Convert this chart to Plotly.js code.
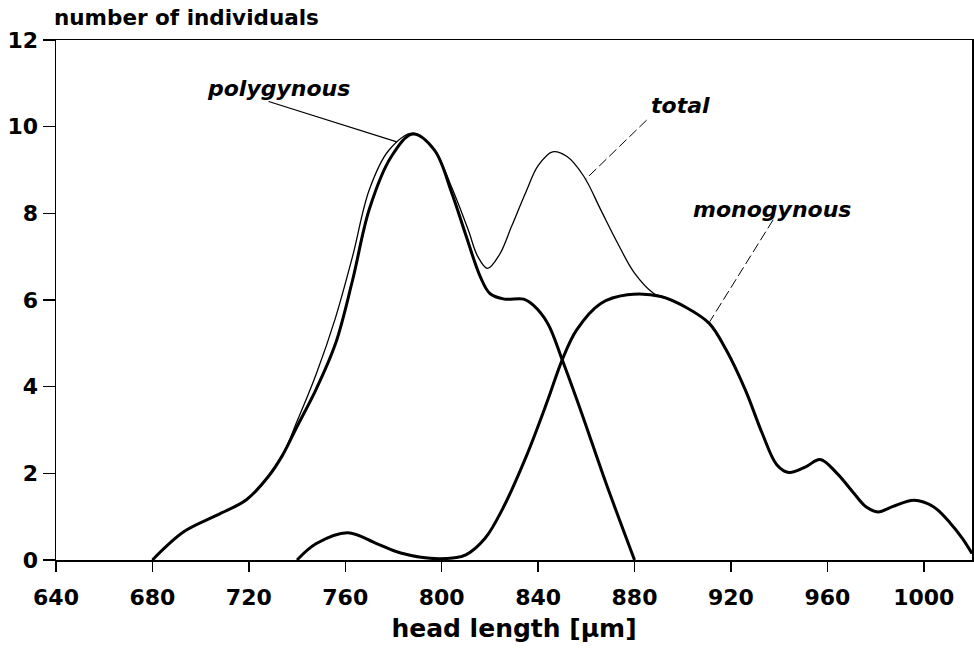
<!DOCTYPE html>
<html>
<head>
<meta charset="utf-8">
<script src="https://cdn.plot.ly/plotly-3.0.1.min.js"></script>
<style>html,body{margin:0;padding:0;background:#fff;}#chart{width:974px;height:653px;}</style>
</head>
<body>
<div id="chart"></div>
<script>
// head length [µm] vs number of individuals
const polyX = [680, 693, 707, 719, 728, 734, 740, 748, 756, 763, 770, 779, 788, 797, 804, 810, 816, 820, 826, 834, 838, 844, 850, 858, 868, 880];
const polyY = [0, 0.65, 1.04, 1.39, 1.92, 2.42, 3.08, 3.95, 5.0, 6.45, 8.1, 9.3, 9.83, 9.46, 8.5, 7.5, 6.54, 6.15, 6.02, 6.02, 5.88, 5.46, 4.62, 3.4, 1.8, 0];

const monoX = [740, 748, 761, 773, 783, 799, 810, 818, 825, 835, 844, 850, 856, 866, 877, 891, 902, 911, 918, 926, 933, 939, 944, 951, 957, 964, 971, 976, 981, 987, 996, 1004, 1011, 1016, 1020];
const monoY = [0, 0.38, 0.63, 0.38, 0.16, 0.03, 0.12, 0.5, 1.15, 2.38, 3.69, 4.62, 5.31, 5.92, 6.12, 6.08, 5.81, 5.46, 4.85, 3.92, 2.92, 2.2, 2.02, 2.15, 2.32, 2.0, 1.54, 1.23, 1.11, 1.23, 1.38, 1.23, 0.85, 0.5, 0.15];

const totalX = [680, 693, 707, 719, 728, 734, 740, 748, 756, 763, 770, 778, 788, 797, 804, 811, 815, 819, 824, 829, 835, 840, 846, 852, 859, 866, 873, 880, 888, 891, 902, 911, 918, 926, 933, 939, 944, 951, 957, 964, 971, 976, 981, 987, 996, 1004, 1011, 1016, 1020];
const totalY = [0, 0.65, 1.04, 1.39, 1.92, 2.42, 3.2, 4.3, 5.6, 7.0, 8.55, 9.45, 9.85, 9.46, 8.62, 7.62, 7.0, 6.73, 7.05, 7.7, 8.5, 9.1, 9.42, 9.31, 8.85, 8.08, 7.31, 6.62, 6.15, 6.08, 5.81, 5.46, 4.85, 3.92, 2.92, 2.2, 2.02, 2.15, 2.32, 2.0, 1.54, 1.23, 1.11, 1.23, 1.38, 1.23, 0.85, 0.5, 0.15];

const xTicks = [640, 680, 720, 760, 800, 840, 880, 920, 960, 1000];
const yTicks = [0, 2, 4, 6, 8, 10, 12];
const seriesNames = ["total", "polygynous", "monogynous"];

const FONT = "DejaVu Sans, Arial, sans-serif";

const traces = [
  {x: totalX, y: totalY, name: seriesNames[0], mode: "lines", line: {color: "#000", width: 1.3, shape: "spline", smoothing: 1}},
  {x: polyX, y: polyY, name: seriesNames[1], mode: "lines", line: {color: "#000", width: 3, shape: "spline", smoothing: 1}},
  {x: monoX, y: monoY, name: seriesNames[2], mode: "lines", line: {color: "#000", width: 3, shape: "spline", smoothing: 1}}
];

const lblFont = {family: FONT, size: 22, color: "#000", weight: "bold", style: "italic"};

const layout = {
  width: 974, height: 653,
  margin: {l: 55.5, r: 1.5, t: 40, b: 93},
  paper_bgcolor: "#fff", plot_bgcolor: "#fff",
  showlegend: false,
  font: {family: FONT, color: "#000"},
  xaxis: {
    range: [640, 1020], tickvals: xTicks, ticktext: xTicks.map(String),
    showgrid: false, zeroline: false, showline: true, mirror: true, linecolor: "#000", linewidth: 1.5,
    ticks: "outside", ticklen: 10, tickwidth: 1.5, tickcolor: "#000",
    tickfont: {family: FONT, size: 22, weight: "bold", color: "#000"},
    ticklabelstandoff: 7,
    title: {text: "head length [µm]", font: {family: FONT, size: 25, weight: "bold", color: "#000"}, standoff: 10},
    automargin: false
  },
  yaxis: {
    range: [0, 12], tickvals: yTicks, ticktext: yTicks.map(String),
    showgrid: false, zeroline: false, showline: true, mirror: true, linecolor: "#000", linewidth: 1.5,
    ticks: "outside", ticklen: 12, tickwidth: 1.5, tickcolor: "#000",
    tickfont: {family: FONT, size: 22, weight: "bold", color: "#000"},
    automargin: false
  },
  annotations: [
    {xref: "paper", yref: "paper", x: -0.004, y: 1.043, xanchor: "left", yanchor: "middle", showarrow: false,
     text: "number of individuals", font: {family: FONT, size: 21.5, weight: "bold", color: "#000"}},
    {xref: "x", yref: "y", x: 732.4, y: 10.87, xanchor: "center", yanchor: "middle", showarrow: false, text: "polygynous", font: lblFont},
    {xref: "x", yref: "y", x: 899.2, y: 10.49, xanchor: "center", yanchor: "middle", showarrow: false, text: "total", font: lblFont},
    {xref: "x", yref: "y", x: 937.1, y: 8.09, xanchor: "center", yanchor: "middle", showarrow: false, text: "monogynous", font: lblFont}
  ],
  shapes: [
    {type: "line", xref: "x", yref: "y", x0: 728.2, y0: 10.58, x1: 781.4, y1: 9.65, line: {color: "#000", width: 1.2}},
    {type: "line", xref: "x", yref: "y", x0: 885, y0: 10.15, x1: 859.4, y1: 8.77, line: {color: "#000", width: 1, dash: "10px,4px"}},
    {type: "line", xref: "x", yref: "y", x0: 937.5, y0: 7.85, x1: 911.2, y1: 5.5, line: {color: "#000", width: 1, dash: "10px,4px"}}
  ]
};

Plotly.newPlot("chart", traces, layout, {displayModeBar: false, staticPlot: true});
</script>
</body>
</html>
